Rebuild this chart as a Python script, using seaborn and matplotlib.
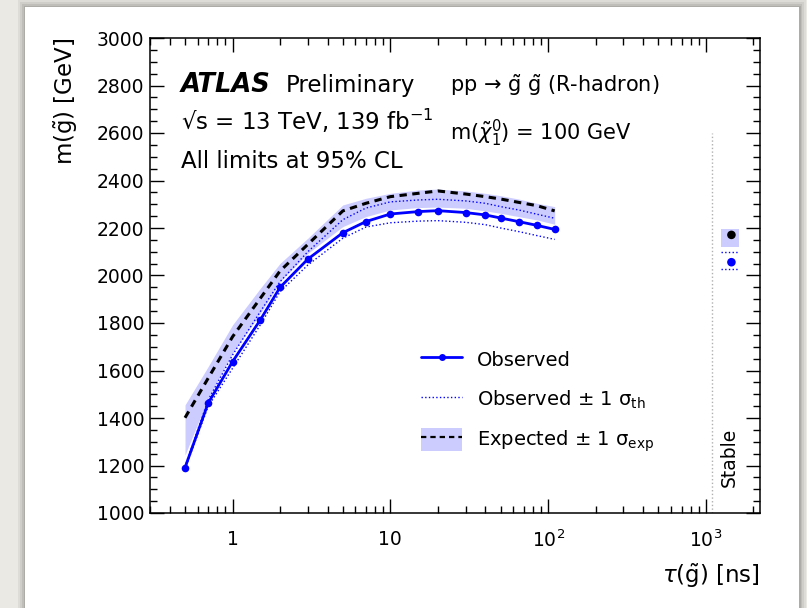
import numpy as np
import pandas as pd
import matplotlib
matplotlib.use("Agg")
import matplotlib.pyplot as plt
import seaborn as sns
from matplotlib.lines import Line2D
from matplotlib.patches import Patch, Rectangle
from matplotlib.ticker import (FixedLocator, FixedFormatter, MultipleLocator,
                               LogLocator, NullFormatter)

# Gluino lifetime scan [ns]
lifetime_ns = [0.5, 0.7, 1, 1.5, 2, 3, 5, 7, 10, 15, 20, 30, 40, 50, 65, 85, 110]

# Observed 95% CL lower limit on m(gluino) [GeV] and its +-1 sigma theory variations
observed = [1191, 1462, 1637, 1813, 1950, 2069, 2180, 2227, 2259, 2269,
            2273, 2265, 2255, 2242, 2227, 2211, 2194]
observed_th_up = [1196, 1475, 1665, 1848, 1974, 2100, 2235, 2284, 2310, 2318,
                  2321, 2314, 2304, 2290, 2276, 2258, 2241]
observed_th_down = [1186, 1448, 1609, 1792, 1932, 2044, 2157, 2204, 2222, 2229,
                    2231, 2224, 2214, 2200, 2185, 2168, 2152]

# Expected limit and its +-1 sigma band
expected = [1401, 1567, 1742, 1904, 2019, 2131, 2272, 2304, 2332, 2346,
            2356, 2343, 2332, 2322, 2308, 2294, 2272]
expected_up = [1455, 1616, 1792, 1946, 2051, 2157, 2297, 2325, 2346, 2360,
               2364, 2356, 2346, 2336, 2322, 2304, 2290]
expected_down = [1244, 1483, 1672, 1841, 1974, 2093, 2206, 2248, 2276, 2286,
                 2288, 2283, 2272, 2262, 2248, 2234, 2216]

# Stable gluino result
stable_tau = [1450]
stable_observed = [2056]
stable_th_up = [2100]
stable_th_down = [2026]
stable_expected = [2171]
stable_exp_up = [2195]
stable_exp_down = [2122]

df = pd.DataFrame({
    "tau": lifetime_ns, "obs": observed, "obs_up": observed_th_up,
    "obs_dn": observed_th_down, "exp": expected,
})

sns.set_theme(style="ticks")
plt.rcParams.update({
    "font.family": ["DejaVu Sans"],
    "mathtext.fontset": "dejavusans",
    "xtick.direction": "in", "ytick.direction": "in",
    "xtick.top": True, "ytick.right": True,
    "axes.linewidth": 1.1,
    "axes.edgecolor": "black",
    "xtick.color": "black", "ytick.color": "black",
    "text.color": "black", "axes.labelcolor": "black",
})

W, H = 807, 608
fig = plt.figure(figsize=(W / 100, H / 100), dpi=100)
fig.patch.set_facecolor("#ebe9e4")

# page with a soft drop shadow
px, py, pw, ph = 25, 0, 774, 601
for d, a in [(7, 0.10), (5, 0.12), (3, 0.16), (1.5, 0.22)]:
    fig.add_artist(Rectangle(((px - d) / W, (py - d) / H), (pw + 2 * d) / W,
                             (ph + 2 * d) / H, transform=fig.transFigure,
                             facecolor="#6f6d66", edgecolor="none", alpha=a,
                             zorder=-10))
fig.add_artist(Rectangle((px / W, py / H), pw / W, ph / H,
                         transform=fig.transFigure, facecolor="white",
                         edgecolor="none", zorder=-9))

ax = fig.add_axes([150 / W, 95 / H, 610 / W, 475 / H])
ax.set_facecolor("white")
ax.set_xscale("log")

band_color = "#ccccff"
ax.fill_between(lifetime_ns, expected_down, expected_up, color=band_color,
                lw=0, zorder=1)

sns.lineplot(data=df, x="tau", y="obs_up", ax=ax, estimator=None, sort=False,
             color="blue", lw=1.0, linestyle=":", zorder=2)
sns.lineplot(data=df, x="tau", y="obs_dn", ax=ax, estimator=None, sort=False,
             color="blue", lw=1.0, linestyle=":", zorder=2)
sns.lineplot(data=df, x="tau", y="exp", ax=ax, estimator=None, sort=False,
             color="black", lw=2.2, linestyle=(0, (2.4, 1.8)), zorder=3)
sns.lineplot(data=df, x="tau", y="obs", ax=ax, estimator=None, sort=False,
             color="blue", lw=2.0, marker="o", markersize=5.5,
             markeredgewidth=0, zorder=4)

# stable point, drawn to the right of the lifetime scan
st_lo, st_hi = 1250, 1630
ax.fill_between([st_lo, st_hi], stable_exp_down * 2, stable_exp_up * 2,
                color=band_color, lw=0, zorder=1)
ax.hlines(stable_th_up + stable_th_down, st_lo, st_hi, colors="blue",
          linestyles=":", lw=1.0, zorder=2)
sns.scatterplot(x=stable_tau, y=stable_expected, ax=ax, color="black",
                s=38, edgecolor="none", zorder=4)
sns.scatterplot(x=stable_tau, y=stable_observed, ax=ax, color="blue",
                s=38, edgecolor="none", zorder=4)
ax.vlines(1100, 1000, 2600, colors="#b0b0b0", linestyles=":", lw=1.0, zorder=1)
ax.text(1410, 1236, "Stable", rotation=90, fontsize=13.5, ha="center",
        va="center")

ax.set_xlim(0.3, 2200)
ax.set_ylim(1000, 3000)
ax.xaxis.set_major_locator(FixedLocator([1, 10, 100, 1000]))
ax.xaxis.set_major_formatter(FixedFormatter(["1", "10", "$10^{2}$", "$10^{3}$"]))
ax.xaxis.set_minor_locator(LogLocator(base=10, subs=np.arange(2, 10), numticks=20))
ax.xaxis.set_minor_formatter(NullFormatter())
ax.yaxis.set_major_locator(MultipleLocator(200))
ax.yaxis.set_minor_locator(MultipleLocator(50))
ax.tick_params(which="major", length=10, width=1.0, labelsize=13.5)
ax.tick_params(which="minor", length=5, width=1.0)
ax.tick_params(axis="x", which="major", pad=12)
ax.tick_params(axis="y", which="major", pad=4)

ax.set_xlabel(r"$\tau(\mathrm{\tilde{g}})$ [ns]", fontsize=16.5, loc="right",
              labelpad=8)
ax.set_ylabel(r"m($\mathrm{\tilde{g}}$) [GeV]", fontsize=16.5, loc="top",
              labelpad=12)

# legend
h_obs = Line2D([], [], color="blue", lw=2.0, marker="o", markersize=5,
               markeredgewidth=0)
h_th = Line2D([], [], color="blue", lw=1.0, linestyle=":")
h_exp = (Patch(facecolor=band_color, edgecolor="none"),
         Line2D([], [], color="black", lw=1.6, linestyle=(0, (2.4, 1.8))))
ax.legend([h_obs, h_th, h_exp],
          ["Observed", "Observed \u00b1 1 \u03c3$_{\\mathrm{th}}$",
           "Expected \u00b1 1 \u03c3$_{\\mathrm{exp}}$"],
          loc="upper left", bbox_to_anchor=(0.445, 0.346), frameon=False,
          fontsize=14, handlelength=2.1, handleheight=1.4, handletextpad=0.75,
          labelspacing=0.88, borderpad=0, borderaxespad=0)

# labels
fig.text(181 / W, 1 - 92 / H, "ATLAS", fontsize=18.5, fontweight="bold",
         fontstyle="italic", va="baseline")
fig.text(286 / W, 1 - 92 / H, "Preliminary", fontsize=16.5, va="baseline")
fig.text(181 / W, 1 - 130 / H, "\u221as = 13 TeV, 139 fb$^{-1}$",
         fontsize=16.5, va="baseline")
fig.text(181 / W, 1 - 168 / H, "All limits at 95% CL", fontsize=16.5,
         va="baseline")
fig.text(450 / W, 1 - 92 / H,
         "pp \u2192 $\\mathrm{\\tilde{g}}$ $\\mathrm{\\tilde{g}}$ (R-hadron)",
         fontsize=15, va="baseline")
fig.text(450 / W, 1 - 140 / H, r"m($\tilde{\chi}^{0}_{1}$) = 100 GeV",
         fontsize=15, va="baseline")

fig.savefig("out.png", dpi=100, facecolor=fig.get_facecolor())
